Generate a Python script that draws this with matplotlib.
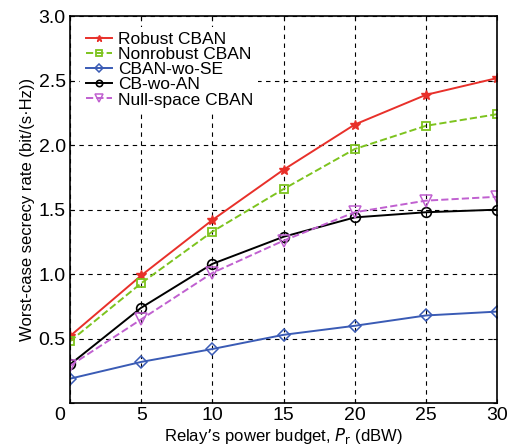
import numpy as np
import matplotlib.pyplot as plt
import matplotlib.transforms as mtransforms

plt.rcParams['font.family'] = ['Liberation Sans', 'DejaVu Sans']

power = [0, 5, 10, 15, 20, 25, 30]
robust = [0.52, 0.99, 1.42, 1.81, 2.16, 2.39, 2.52]
nonrobust = [0.48, 0.93, 1.33, 1.66, 1.97, 2.15, 2.24]
wo_se = [0.19, 0.32, 0.42, 0.53, 0.60, 0.68, 0.71]
wo_an = [0.30, 0.74, 1.08, 1.29, 1.44, 1.48, 1.50]
null_space = [0.29, 0.65, 1.01, 1.26, 1.48, 1.57, 1.60]
labels = ['Robust CBAN', 'Nonrobust CBAN', 'CBAN-wo-SE', 'CB-wo-AN', 'Null-space CBAN']
xtick_labels = ['0', '5', '10', '15', '20', '25', '30']
ytick_labels = ['', '0.5', '1.0', '1.5', '2.0', '2.5', '3.0']

fig = plt.figure(figsize=(5.11, 4.48), dpi=100)
ax = fig.add_axes([0.137, 0.100, 0.836, 0.864])

ax.plot(power, robust, color='#e8302a', ls='-', marker='*', ms=7, lw=1.4, label=labels[0])
ax.plot(power, nonrobust, color='#7dc31e', ls='--', marker='s', ms=6, mfc='none', mew=1.3, lw=1.4, label=labels[1])
ax.plot(power, wo_se, color='#3a5bb5', ls='-', marker='D', ms=6, mfc='none', mew=1.1, lw=1.4, label=labels[2])
ax.plot(power, wo_an, color='black', ls='-', marker='o', ms=7, mfc='none', mew=1.2, lw=1.4, label=labels[3])
ax.plot(power, null_space, color='#c060d0', ls='--', marker='v', ms=8, mfc='none', mew=1.1, lw=1.4, label=labels[4])

ax.set_xlim(0, 30)
ax.set_ylim(0, 3.0)
ax.set_xticks(power)
ax.set_xticklabels(xtick_labels)
ax.set_yticks([0, 0.5, 1.0, 1.5, 2.0, 2.5, 3.0])
ax.set_yticklabels(ytick_labels)
ax.tick_params(direction='in', labelsize=14, length=3, top=True, right=True, pad=3)
ax.grid(True, ls=(0, (4, 4)), color='black', lw=0.8)
for s in ax.spines.values():
    s.set_linewidth(1.2)

# shared "0" at the corner sits a bit left
zero = ax.get_xticklabels()[0]
zero.set_transform(zero.get_transform() + mtransforms.ScaledTranslation(-0.1, 0, fig.dpi_scale_trans))

ax.set_xlabel('Relay\u2019s power budget, $P_{\\mathrm{r}}$ (dBW)', fontsize=12, labelpad=1)
ax.set_ylabel('Worst-case secrecy rate (bit/(s\u00b7Hz))', fontsize=12, labelpad=3)

leg = ax.legend(loc='upper left', fontsize=12.5, frameon=True, fancybox=False,
                handlelength=1.5, handletextpad=0.35, labelspacing=0.0,
                borderaxespad=0.6, borderpad=0.3, markerscale=0.65)
leg.get_frame().set_edgecolor('none')
leg.get_frame().set_alpha(1)

fig.savefig('out.png', dpi=100)
